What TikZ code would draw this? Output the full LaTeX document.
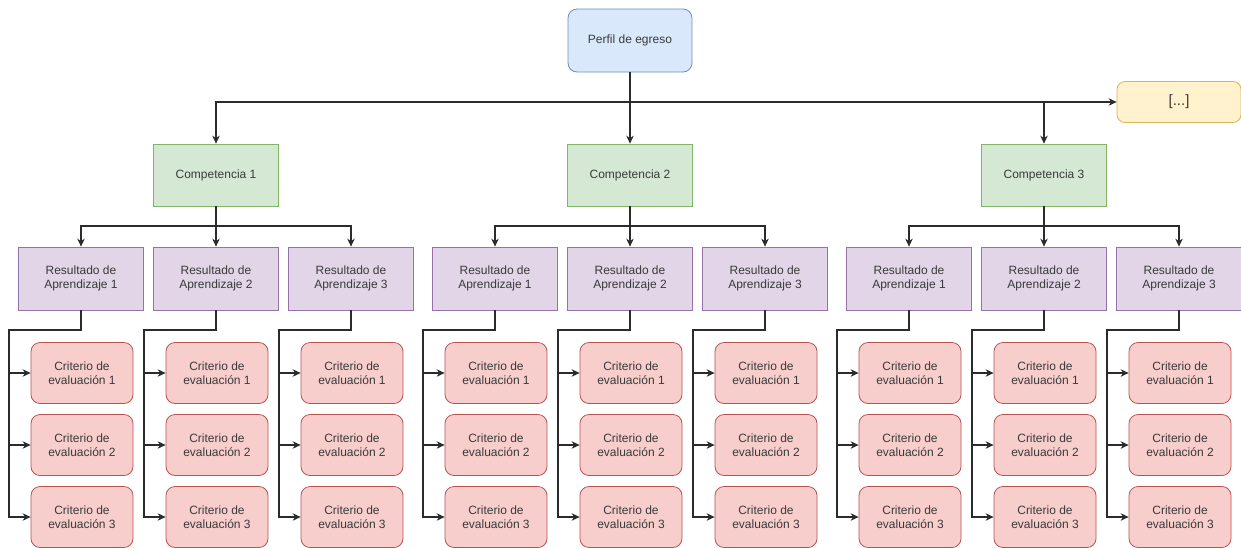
\documentclass[tikz,border=0pt]{standalone}
\usepackage{fontspec}
\setmainfont{Liberation Sans}
\usetikzlibrary{arrows.meta}
\definecolor{txt}{HTML}{3A3A3A}
\definecolor{ln}{HTML}{2B2B2B}
\definecolor{bluef}{HTML}{DAE8FC}\definecolor{blued}{HTML}{6C8EBF}
\definecolor{greenf}{HTML}{D5E8D4}\definecolor{greend}{HTML}{82B366}
\definecolor{purplef}{HTML}{E1D5E7}\definecolor{purpled}{HTML}{9673A6}
\definecolor{redf}{HTML}{F8CECC}\definecolor{redd}{HTML}{B85450}
\definecolor{yellowf}{HTML}{FFF2CC}\definecolor{yellowd}{HTML}{D6B656}
\tikzset{
  box/.style={draw, line width=0.8pt, text=txt, align=center, inner sep=2pt,
    font=\fontsize{12}{14.5}\selectfont},
  profile/.style={box, fill=bluef, draw=blued, rounded corners=9pt,
    minimum width=124pt, minimum height=63pt},
  more/.style={box, fill=yellowf, draw=yellowd, rounded corners=8pt,
    minimum width=124pt, minimum height=41pt, font=\fontsize{15}{18}\selectfont},
  comp/.style={box, fill=greenf, draw=greend, minimum width=125pt, minimum height=62pt},
  result/.style={box, fill=purplef, draw=purpled, minimum width=125pt, minimum height=63pt},
  crit/.style={box, fill=redf, draw=redd, rounded corners=9pt,
    minimum width=102pt, minimum height=61pt},
  arr/.style={draw=ln, line width=1.1pt, -{Stealth[length=8pt,width=7.5pt]}},
}
\begin{document}
\begin{tikzpicture}[x=1pt,y=-1pt]
\path[use as bounding box, fill=white] (0,0) rectangle (1241,547);

% top level: profile, its continuation box and the branch point
\node[profile] (p) at (630,40.5) {Perfil de egreso};
\node[more] (etc) at (1179,102) {[...]};
\coordinate (hub) at (630,102);
\draw[arr] (p.south) |- (etc.west);

% three competences, each with three learning results and three criteria
\foreach \i/\cx in {1/216,2/630,3/1044}{
  \node[comp] (c\i) at (\cx,175) {Competencia \i};
  \draw[arr] (hub) -| (c\i.north);
  \foreach \j in {1,2,3}{
    \pgfmathsetmacro{\rx}{\cx+135*(\j-2)}
    \node[result] (r\i-\j) at (\rx,278.5) {Resultado de\\Aprendizaje \j};
    \coordinate (s\i-\j) at (\rx,226);
    \draw[arr] (c\i.south) |- (s\i-\j) -- (r\i-\j.north);
    \coordinate (t\i-\j) at (\rx-72,330);
    \foreach \k/\ky in {1/373,2/445,3/517}{
      \node[crit] (e\i-\j-\k) at (\rx+1,\ky) {Criterio de\\evaluación \k};
      \draw[arr] (r\i-\j.south) |- (t\i-\j) |- (e\i-\j-\k.west);
    }
  }
}
\end{tikzpicture}
\end{document}
